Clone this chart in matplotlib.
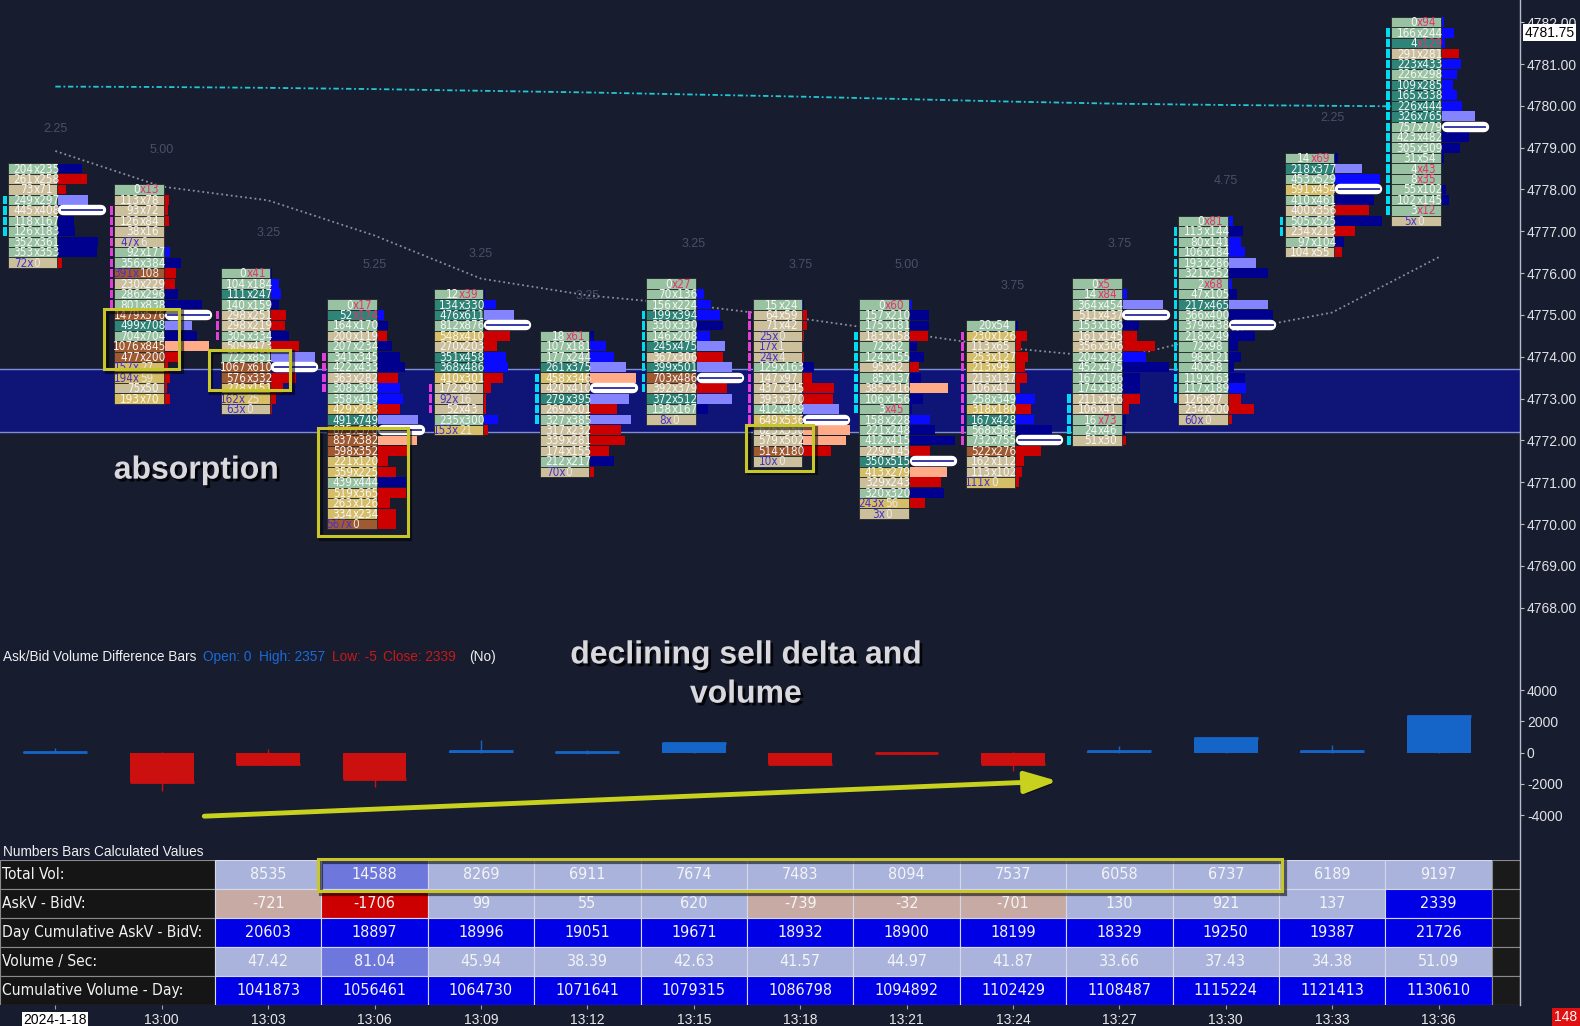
import matplotlib
matplotlib.use('Agg')
import matplotlib.pyplot as plt
import matplotlib.patheffects as pe
from matplotlib.patches import Rectangle
from matplotlib.lines import Line2D
from matplotlib import font_manager
from matplotlib.font_manager import FontProperties

plt.rcParams['font.family'] = ['Liberation Sans', 'DejaVu Sans']

# look for an installed condensed / narrow sans face for the dense cell numbers
_cond = None
for _pref in ('Liberation Sans Narrow', 'Arial Narrow', 'DejaVu Sans', 'Open Sans', 'Roboto', 'Noto Sans'):
    for _f in font_manager.fontManager.ttflist:
        if _f.name == _pref and _f.weight in (400, 'normal', 'regular') and \
                _f.style == 'normal' and (_f.stretch in ('condensed', 'semi-condensed') or
                                          'Condensed' in _f.fname or 'Narrow' in _f.fname or
                                          _pref.endswith('Narrow')):
            _cond = _f.fname
            break
    if _cond:
        break


def cond_fp(size):
    if _cond:
        return FontProperties(fname=_cond, size=size)
    return FontProperties(family='Liberation Sans', size=size * 0.86)


CELL_FS = 8.4
TBL_FS = 11.5
LBL_FS = 11.2

# ---------------- data ----------------
times = ['2024-1-18', '13:00', '13:03', '13:06', '13:09', '13:12', '13:15',
         '13:18', '13:21', '13:24', '13:27', '13:30', '13:33', '13:36']

col_high = [4778.50, 4778.00, 4776.00, 4775.25, 4775.50, 4774.50, 4775.75,
            4775.25, 4775.25, 4774.75, 4775.75, 4777.25, 4778.75, 4782.00]

bid_c00 = [204, 261, 73, 249, 445, 118, 126, 352, 353, 72]
ask_c00 = [235, 258, 71, 297, 408, 167, 183, 361, 353, 0]
bid_c01 = [0, 113, 93, 126, 38, 47, 92, 356, 391, 230, 286, 801, 1479, 499, 704, 1076, 477, 157, 194, 75, 193]
ask_c01 = [13, 78, 72, 84, 16, 6, 177, 384, 108, 229, 296, 838, 576, 708, 704, 845, 200, 27, 59, 50, 70]
bid_c02 = [0, 104, 111, 140, 298, 298, 305, 509, 722, 1067, 576, 278, 162, 63]
ask_c02 = [41, 184, 247, 159, 251, 219, 334, 473, 851, 610, 332, 151, 25, 0]
bid_c03 = [0, 52, 164, 200, 207, 341, 422, 363, 308, 358, 429, 491, 875, 837, 598, 221, 359, 439, 519, 263, 334, 567]
ask_c03 = [17, 174, 170, 119, 234, 345, 433, 282, 398, 419, 283, 749, 570, 382, 352, 120, 225, 444, 365, 126, 234, 0]
bid_c04 = [12, 134, 476, 812, 548, 270, 351, 368, 410, 172, 92, 52, 235, 153]
ask_c04 = [39, 330, 611, 876, 410, 203, 458, 486, 301, 90, 16, 43, 300, 21]
bid_c05 = [18, 107, 177, 261, 458, 420, 279, 269, 327, 317, 339, 174, 212, 70]
ask_c05 = [61, 181, 244, 375, 346, 410, 395, 201, 385, 232, 281, 155, 217, 0]
bid_c06 = [0, 70, 156, 199, 330, 146, 245, 367, 399, 703, 392, 372, 138, 8]
ask_c06 = [27, 136, 224, 394, 330, 208, 475, 306, 501, 486, 379, 512, 167, 0]
bid_c07 = [15, 64, 71, 25, 17, 24, 129, 147, 437, 393, 412, 649, 625, 579, 514, 10]
ask_c07 = [24, 59, 42, 0, 1, 4, 163, 97, 345, 370, 489, 536, 550, 502, 180, 0]
bid_c08 = [0, 157, 175, 183, 72, 124, 95, 85, 385, 106, 3, 158, 221, 412, 229, 350, 413, 329, 320, 243, 3]
ask_c08 = [60, 210, 181, 158, 82, 155, 82, 137, 316, 156, 45, 228, 248, 415, 145, 515, 279, 243, 320, 56, 0]
bid_c09 = [20, 230, 113, 253, 213, 213, 106, 258, 318, 167, 568, 732, 522, 162, 113, 111]
ask_c09 = [54, 126, 65, 127, 99, 137, 41, 349, 180, 428, 584, 755, 276, 112, 102, 0]
bid_c10 = [0, 14, 364, 511, 153, 161, 356, 204, 452, 167, 174, 211, 106, 16, 24, 51]
ask_c10 = [5, 84, 454, 437, 186, 145, 306, 282, 475, 186, 188, 156, 41, 73, 46, 30]
bid_c11 = [0, 113, 80, 106, 193, 321, 2, 47, 217, 366, 379, 218, 72, 98, 40, 119, 117, 126, 234, 60]
ask_c11 = [81, 144, 141, 184, 286, 352, 68, 105, 465, 400, 438, 249, 98, 121, 58, 163, 189, 87, 200, 0]
bid_c12 = [14, 218, 453, 591, 410, 400, 505, 234, 97, 104]
ask_c12 = [69, 377, 529, 454, 461, 356, 525, 213, 104, 55]
bid_c13 = [0, 166, 4, 291, 223, 226, 109, 165, 226, 326, 757, 423, 305, 31, 4, 8, 55, 102, 3, 5]
ask_c13 = [94, 244, 129, 281, 433, 298, 285, 338, 444, 765, 779, 482, 309, 54, 43, 35, 102, 145, 12, 0]

# value-area style markers at the left of each bar (high / low price) and bar direction
va_high = [4777.75, 4777.50, 4775.00, 4774.00, 4773.25, 4773.50, 4775.00,
           4775.00, 4774.50, 4774.50, 4773.00, 4777.00, 4777.25, 4781.75]
va_low = [4777.00, 4775.25, 4774.50, 4773.25, 4772.75, 4772.50, 4773.25,
          4772.50, 4772.75, 4772.00, 4772.00, 4773.00, 4777.00, 4777.50]
bar_up = [True, False, False, False, False, True, True, False, True, False, True, True, True, True]

# lines over the price panel
vwap_line = [4780.46, 4780.45, 4780.43, 4780.40, 4780.36, 4780.32, 4780.27,
             4780.22, 4780.16, 4780.10, 4780.05, 4780.02, 4780.00, 4779.98]
avg_line = [4778.92, 4778.07, 4777.74, 4776.90, 4775.87, 4775.47, 4775.23,
            4774.92, 4774.56, 4774.20, 4773.96, 4774.58, 4775.06, 4776.38]
zone_low, zone_high = 4772.20, 4773.70
last_price = 4781.75

# Ask/Bid volume difference bars
delta_open = [0] * 14
delta_high = [280, 60, 230, 0, 810, 150, 640, 0, 60, 20, 430, 930, 480, 2357]
delta_low = [-30, -2470, -760, -2180, -30, -60, -50, -760, -60, -1200, -20, -10, -20, -5]
delta_close = [20, -1860, -721, -1706, 99, 55, 620, -739, -32, -701, 130, 921, 137, 2339]

# Numbers bars calculated values (13:03 .. 13:36)
total_vol = [8535, 14588, 8269, 6911, 7674, 7483, 8094, 7537, 6058, 6737, 6189, 9197]
askv_bidv = [-721, -1706, 99, 55, 620, -739, -32, -701, 130, 921, 137, 2339]
day_cum_delta = [20603, 18897, 18996, 19051, 19671, 18932, 18900, 18199, 18329, 19250, 19387, 21726]
vol_per_sec = [47.42, 81.04, 45.94, 38.39, 42.63, 41.57, 44.97, 41.87, 33.66, 37.43, 34.38, 51.09]
cum_vol_day = [1041873, 1056461, 1064730, 1071641, 1079315, 1086798, 1094892,
               1102429, 1108487, 1115224, 1121413, 1130610]
row_labels = ['Total Vol:', 'AskV - BidV:', 'Day Cumulative AskV - BidV:',
              'Volume / Sec:', 'Cumulative Volume - Day:']

bids = [bid_c00, bid_c01, bid_c02, bid_c03, bid_c04, bid_c05, bid_c06,
        bid_c07, bid_c08, bid_c09, bid_c10, bid_c11, bid_c12, bid_c13]
asks = [ask_c00, ask_c01, ask_c02, ask_c03, ask_c04, ask_c05, ask_c06,
        ask_c07, ask_c08, ask_c09, ask_c10, ask_c11, ask_c12, ask_c13]

# ---------------- style ----------------
BG = '#171d2f'
W, H = 1580, 1026
TICK = 0.25
GREEN, TAN, TEAL, BROWN, GOLD = '#98c2a2', '#cbbf9c', '#2f8478', '#a05a32', '#d6bd68'
WHITE_T, PINK_T, BLUE_T = '#f6f6f6', '#e8306e', '#4632c8'


def fx(px):
    return px / W


def fy(py):
    return 1 - py / H


def cell_color(b, a):
    if a >= b:
        return TEAL if (a - b >= 100 and a >= 1.25 * b) else GREEN
    d = b - a
    if d >= 200:
        return BROWN
    if d >= 100:
        return GOLD
    return TAN


def prof_color(b, a, frac):
    if b > a:
        return '#ffab88' if frac >= 0.75 else '#cc0000'
    if frac >= 0.55 and (a - b) >= 0.08 * (a + b):
        return '#8484ff'
    if a - b >= 60:
        return '#0a0aff'
    return '#00008e'


fig = plt.figure(figsize=(15.8, 10.26), dpi=100)
fig.patch.set_facecolor(BG)
XL = (-0.52, 13.765)
RIGHT = 1520
YL = (4767.23, 4782.53)

ax = fig.add_axes([0, fy(640), fx(RIGHT), 640 / H])
ax_d = fig.add_axes([0, fy(845), fx(RIGHT), 200 / H])
ax_t = fig.add_axes([0, fy(1004.7), fx(RIGHT), 145.1 / H])
for a_ in (ax, ax_d, ax_t):
    a_.set_facecolor(BG)
    a_.set_xlim(*XL)
    for s in a_.spines.values():
        s.set_visible(False)

shadow_line = [pe.Stroke(offset=(2, -2), linewidth=3.0, foreground='black', alpha=0.55), pe.Normal()]
text_shadow = [pe.SimplePatchShadow(offset=(2, -2), shadow_rgbFace='black', alpha=0.8), pe.Normal()]

# ---------------- price panel ----------------
ax.set_ylim(*YL)
ax.set_xticks([])
ax.yaxis.tick_right()
yt = [4768 + k for k in range(15)]
ax.set_yticks(yt)
ax.set_yticklabels([f'{v:.2f}' for v in yt])
ax.tick_params(axis='y', colors='#b8bcc8', labelcolor='#e2e2e6', labelsize=10, length=3, pad=2)

ax.axhspan(zone_low, zone_high, color='#0f1577', zorder=0.5)
ax.axhline(zone_low, color='#7f8fd0', lw=1, zorder=0.6)
ax.axhline(zone_high, color='#7f8fd0', lw=1, zorder=0.6)

xs = list(range(14))
ax.plot(xs, avg_line, color='#8a90a0', ls=':', lw=1.3, zorder=1.5)
ax.plot(xs, vwap_line, color='#1fc8d2', ls=(0, (3, 1.5, 1, 1.5)), lw=1.3, zorder=2.5)

cell_fp = cond_fp(CELL_FS)
for i in range(14):
    b_list, a_list = bids[i], asks[i]
    hi = col_high[i]
    n = len(b_list)
    lo = hi - TICK * (n - 1)
    vols = [b + a for b, a in zip(b_list, a_list)]
    vmax = max(vols)
    poc = vols.index(vmax)
    if hi + 1.1 < YL[1]:
        ax.text(i, hi + 0.95, f'{hi - lo:.2f}', color='#4a5064', fontsize=9,
                ha='center', va='center', zorder=1)
    mcol = '#00dcef' if bar_up[i] else '#e040d8'
    for k in range(n):
        b, a = b_list[k], a_list[k]
        p = hi - TICK * k
        ax.add_patch(Rectangle((i - 0.445, p - 0.125), 0.465, 0.25, fc=cell_color(b, a),
                               ec='#23272c', lw=0.6, zorder=3))
        cx = i - 0.205
        if b >= 3 * a and b > 0:
            s1, c1, s2, c2 = f'{b}x', BLUE_T, f'{a}', '#e8e8e8'
        elif a >= 3 * b and a > 0:
            s1, c1, s2, c2 = f'{b}', WHITE_T, f'x{a}', PINK_T
        else:
            s1, c1, s2, c2 = f'{b}', WHITE_T, f'x{a}', WHITE_T
        ax.text(cx, p - 0.012, s1, color=c1, fontproperties=cell_fp,
                ha='right', va='center', zorder=4)
        ax.text(cx, p - 0.012, s2, color=c2, fontproperties=cell_fp,
                ha='left', va='center', zorder=4)
        frac = vols[k] / vmax
        if k == poc:
            ax.plot([i + 0.075, i + 0.425], [p, p], color='white', lw=7.5,
                    solid_capstyle='round', zorder=5)
            ax.plot([i + 0.06, i + 0.44], [p, p], color='#3a3aa8', lw=1.4, zorder=6)
        else:
            ax.barh(p, 0.45 * frac, left=i + 0.022, height=0.235,
                    color=prof_color(b, a, frac), zorder=2)
        if va_low[i] - 1e-6 <= p <= va_high[i] + 1e-6:
            ax.add_patch(Rectangle((i - 0.49, p - 0.1), 0.032, 0.2, fc=mcol, ec='none', zorder=3))

# current price label
ax.annotate(f'{last_price:.2f}', xy=(1, last_price), xycoords=('axes fraction', 'data'),
            xytext=(3, 0), textcoords='offset points', ha='left', va='center',
            fontsize=10, color='black', annotation_clip=False,
            bbox=dict(fc='white', ec='none', pad=1.0))

yellow = '#c9c62a'
for (x0, x1, p0, p1) in [(0.457, 1.16, 4773.71, 4775.14), (1.44, 2.21, 4773.20, 4774.17),
                         (2.47, 3.31, 4769.71, 4772.29), (6.49, 7.12, 4771.28, 4772.37)]:
    r = Rectangle((x0, p0), x1 - x0, p1 - p0, fill=False, ec=yellow, lw=2.2, zorder=7)
    r.set_path_effects(shadow_line)
    ax.add_patch(r)

ax.text(1.325, 4771.28, 'absorption', fontsize=23, fontweight='bold', color='#d8d8de',
        ha='center', va='center', zorder=8, path_effects=text_shadow)

# ---------------- delta panel ----------------
ax_d.set_ylim(-5917, 6904)
ax_d.set_xticks([])
ax_d.yaxis.tick_right()
dt = [-4000, -2000, 0, 2000, 4000]
ax_d.set_yticks(dt)
ax_d.set_yticklabels([str(v) for v in dt])
ax_d.tick_params(axis='y', colors='#b8bcc8', labelcolor='#e2e2e6', labelsize=10, length=3, pad=2)
for i in range(14):
    o, h, l, c = delta_open[i], delta_high[i], delta_low[i], delta_close[i]
    col = '#1565c8' if c >= o else '#cc1010'
    ax_d.vlines(i, l, h, color=col, lw=1, zorder=2)
    ax_d.bar(i, c - o, bottom=o, width=0.6, color=col, zorder=3)
    ax_d.hlines(c, i - 0.3, i + 0.3, color=col, lw=2, zorder=3)

arr = ax_d.annotate('', xy=(9.42, -1814), xytext=(1.40, -4070),
                    arrowprops=dict(arrowstyle='-|>,head_length=0.9,head_width=0.3', color='#c8d21e',
                                    lw=3.5, shrinkA=0, shrinkB=0, mutation_scale=22), zorder=6)
arr.arrow_patch.set_path_effects([pe.SimplePatchShadow(offset=(2, -2), shadow_rgbFace='black', alpha=0.6),
                                  pe.Normal()])

ax_d.text(6.49, 4980, 'declining sell delta and\nvolume', fontsize=23, fontweight='bold',
          color='#d8d8de', ha='center', va='center', linespacing=1.4, zorder=8, multialignment='center',
          path_effects=text_shadow)

t0 = ax_d.text(fx(3), fy(656.6), 'Ask/Bid Volume Difference Bars', transform=fig.transFigure,
               color='#f0f0f0', fontsize=9.8, ha='left', va='center')
prev = t0
for s, c, gap in [(f'Open: {delta_open[13]}', '#1a6ad8', 5), (f'High: {delta_high[13]}', '#1a6ad8', 5),
                  (f'Low: {delta_low[13]}', '#c81818', 5), (f'Close: {delta_close[13]}', '#c81818', 5),
                  ('(No)', '#f0f0f0', 9)]:
    prev = ax_d.annotate(s, xy=(1, 0.5), xycoords=prev, xytext=(gap, 0), textcoords='offset points',
                         ha='left', va='center', color=c, fontsize=9.8, annotation_clip=False)

# ---------------- table ----------------
ax_t.set_ylim(5, 0)
ax_t.set_yticks([])
LIGHT, MED, BLUE, ROSE, RED = '#a9b3dc', '#6e78dc', '#0000e6', '#c8aaa4', '#cc0000'
tbl_rows = [
    (total_vol, lambda v: MED if v > 12000 else LIGHT, lambda v: f'{v}'),
    (askv_bidv, lambda v: RED if v <= -1000 else (ROSE if v < 0 else (BLUE if v >= 2000 else LIGHT)),
     lambda v: f'{v}'),
    (day_cum_delta, lambda v: BLUE, lambda v: f'{v}'),
    (vol_per_sec, lambda v: MED if v > 70 else LIGHT, lambda v: f'{v:.2f}'),
    (cum_vol_day, lambda v: BLUE, lambda v: f'{v}'),
]
tbl_fp = cond_fp(TBL_FS)
lbl_fp = cond_fp(LBL_FS)
for r, (vals, cfn, ffn) in enumerate(tbl_rows):
    ax_t.add_patch(Rectangle((XL[0], r), 1.5 - XL[0], 1, fc='#151515', ec='#8a8a8a', lw=0.8, zorder=1))
    ax_t.text(XL[0] + 0.018, r + 0.5, row_labels[r], color='#f2f2f2', fontproperties=lbl_fp,
              ha='left', va='center', zorder=3)
    for j, v in enumerate(vals):
        x = 2 + j
        ax_t.add_patch(Rectangle((x - 0.5, r), 1, 1, fc=cfn(v), ec='#d4d8ea', lw=0.8, zorder=1))
        ax_t.text(x, r + 0.5, ffn(v), color='#f4f4f4', fontproperties=tbl_fp,
                  ha='center', va='center', zorder=3)
    ax_t.add_patch(Rectangle((13.5, r), XL[1] - 13.5, 1, fc='#1a1a1a', ec='#8a8a8a', lw=0.8, zorder=1))

rt = Rectangle((2.47, -0.03), 11.53 - 2.47, 1.11, fill=False, ec=yellow, lw=2.2, zorder=7, clip_on=False)
rt.set_path_effects(shadow_line)
ax_t.add_patch(rt)

ax_t.text(fx(3), fy(852), 'Numbers Bars Calculated Values', transform=fig.transFigure,
          color='#f0f0f0', fontsize=9.8, ha='left', va='center')

ax_t.set_xticks(xs)
ax_t.set_xticklabels(times)
ax_t.tick_params(axis='x', colors='#9aa0b0', labelcolor='#e8e8e8', labelsize=10, length=3, pad=3)
lab0 = ax_t.get_xticklabels()[0]
lab0.set_color('black')
lab0.set_bbox(dict(fc='white', ec='none', pad=1.0))

fig.add_artist(Line2D([fx(RIGHT), fx(RIGHT)], [fy(0), fy(1005)], color='#b8bcc8', lw=1,
                      transform=fig.transFigure))
fig.text(fx(1566), fy(1017), '148', color='white', fontsize=10, ha='center', va='center',
         bbox=dict(fc='#e01010', ec='none', pad=1.5))

fig.savefig('out.png', dpi=100, facecolor=BG)
